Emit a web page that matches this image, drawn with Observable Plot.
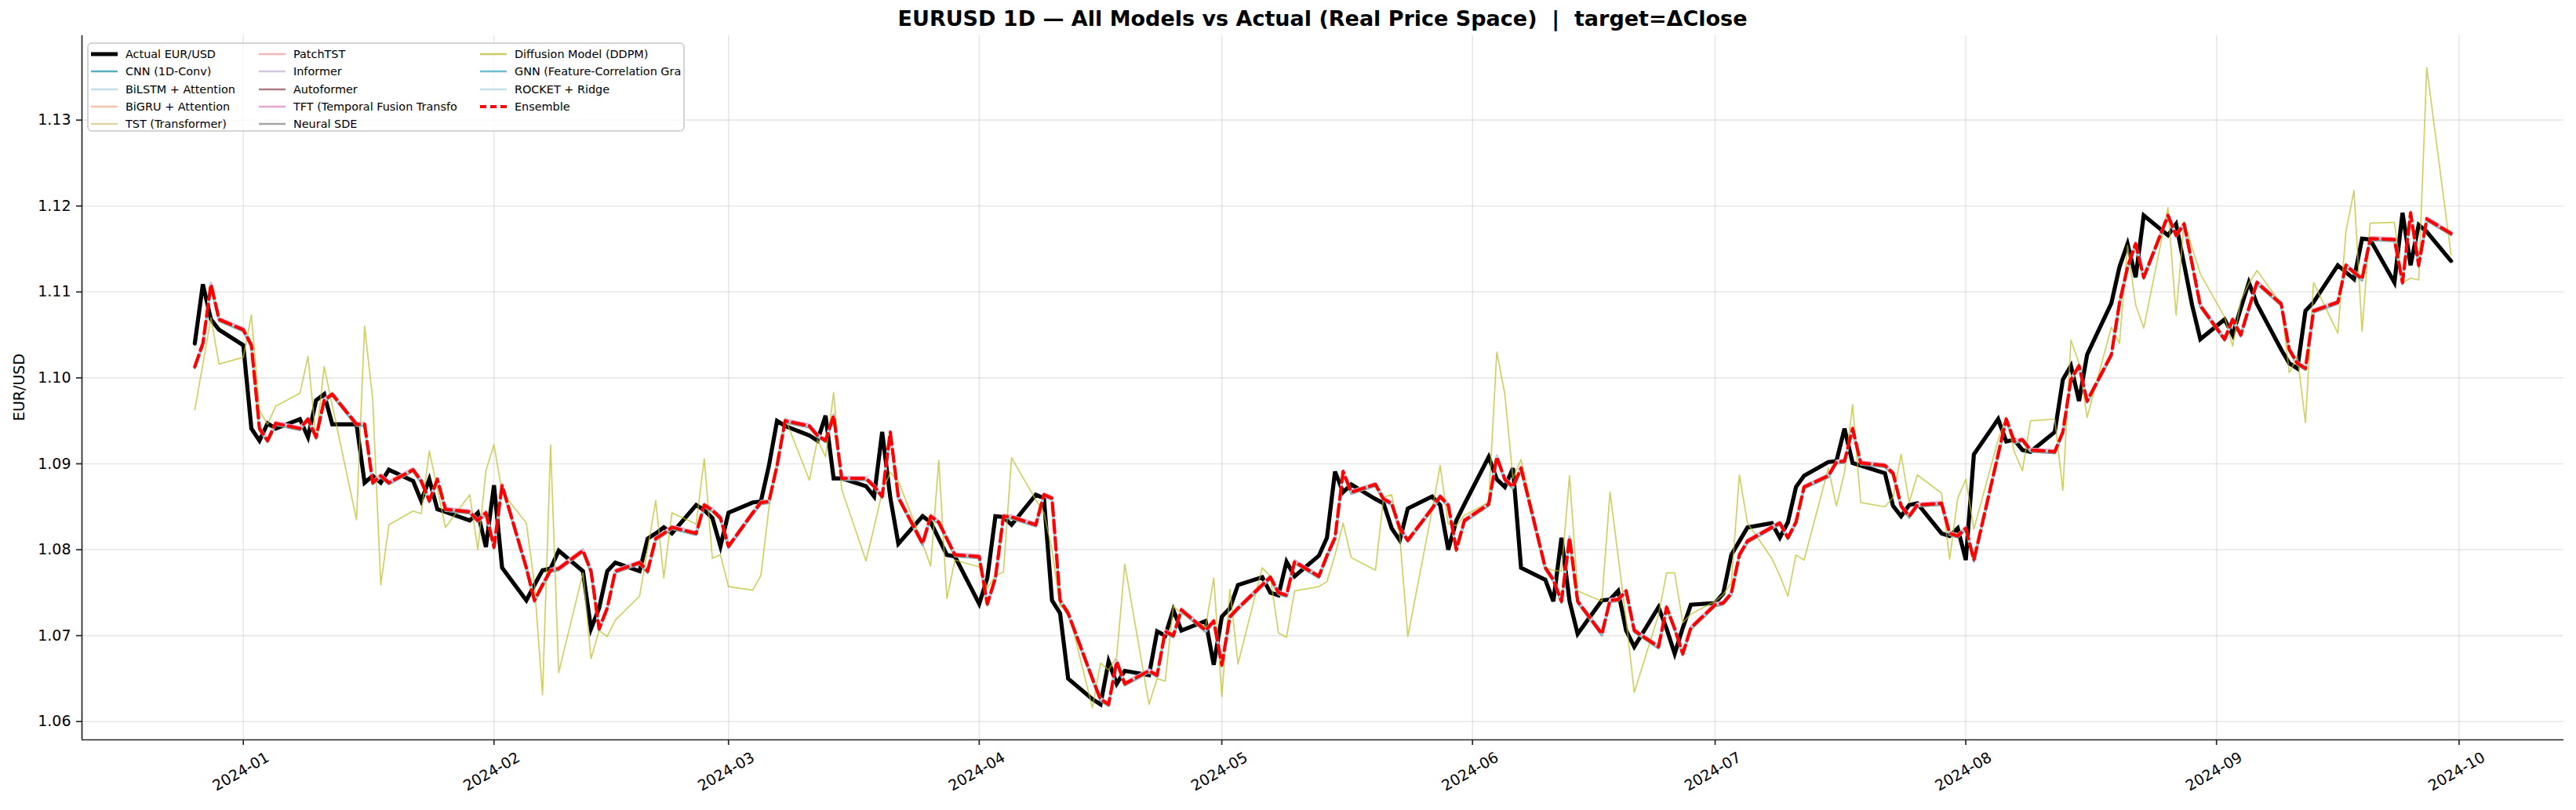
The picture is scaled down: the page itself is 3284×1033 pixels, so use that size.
<!DOCTYPE html>
<html>
<head>
<meta charset="utf-8">
<script src="https://cdn.jsdelivr.net/npm/d3@7"></script>
<script src="https://cdn.jsdelivr.net/npm/@observablehq/plot@0.6"></script>
<style>
  body { margin: 0; background: #fff; font-family: "DejaVu Sans", sans-serif; }
  #wrap { position: relative; width: 3284px; height: 1033px; }
  #legend {
    position: absolute; left: 111px; top: 54px; width: 762px; height: 114px;
    border: 2px solid #d4d4d4; border-radius: 6px; background: rgba(255,255,255,0.8);
    box-sizing: border-box; font-size: 14.4px; color: #000;
  }
  .item { position: absolute; height: 18px; display: flex; align-items: center; white-space: pre; }
  .item svg { margin-right: 10px; }
</style>
</head>
<body>
<div id="wrap"></div>
<script>
// ---- series (EUR/USD daily closes and model forecasts, business days 2023-12-26 .. 2024-09-30) ----
const startDay = "2023-12-26";
const endDay = "2024-09-30";

const actual = [
  // Dec 2023
  1.1040, 1.1109, 1.1068, 1.1056,
  // Jan 2024
  1.1038, 1.0941, 1.0927, 1.0947, 1.0941, 1.0952, 1.0931, 1.0974, 1.0981, 1.0946, 1.0946, 1.0878,
  1.0886, 1.0878, 1.0893, 1.0880, 1.0857, 1.0882, 1.0847, 1.0844, 1.0834, 1.0843, 1.0803,
  // Feb
  1.0875, 1.0779, 1.0741, 1.0759, 1.0776, 1.0778, 1.0799, 1.0775, 1.0708, 1.0732, 1.0775, 1.0785,
  1.0775, 1.0813, 1.0819, 1.0826, 1.0819, 1.0852, 1.0846, 1.0837, 1.0804,
  // Mar
  1.0843, 1.0855, 1.0856, 1.0898, 1.0950, 1.0944, 1.0933, 1.0927, 1.0956, 1.0883, 1.0883, 1.0874,
  1.0862, 1.0937, 1.0861, 1.0807, 1.0839, 1.0832, 1.0813, 1.0794, 1.0792,
  // Apr
  1.0737, 1.0767, 1.0839, 1.0838, 1.0829, 1.0864, 1.0860, 1.0741, 1.0726, 1.0650, 1.0626, 1.0620,
  1.0670, 1.0644, 1.0659, 1.0654, 1.0705, 1.0700, 1.0730, 1.0706, 1.0717, 1.0666,
  // May
  1.0722, 1.0732, 1.0759, 1.0768, 1.0750, 1.0747, 1.0786, 1.0769, 1.0793, 1.0814, 1.0891, 1.0867,
  1.0876, 1.0859, 1.0854, 1.0825, 1.0811, 1.0848, 1.0862, 1.0852, 1.0800, 1.0834, 1.0853,
  // Jun
  1.0908, 1.0882, 1.0873, 1.0895, 1.0779, 1.0765, 1.0740, 1.0814, 1.0740, 1.0702, 1.0741, 1.0742,
  1.0752, 1.0706, 1.0687, 1.0733, 1.0708, 1.0679, 1.0709, 1.0736,
  // Jul
  1.0738, 1.0749, 1.0794, 1.0810, 1.0826, 1.0831, 1.0814, 1.0832, 1.0873, 1.0886, 1.0902, 1.0903,
  1.0941, 1.0901, 1.0898, 1.0889, 1.0851, 1.0839, 1.0852, 1.0854, 1.0819, 1.0816, 1.0825,
  // Aug
  1.0788, 1.0911, 1.0952, 1.0926, 1.0928, 1.0916, 1.0914, 1.0937, 1.0998, 1.1014, 1.0973, 1.1027,
  1.1087, 1.1129, 1.1156, 1.1117, 1.1189, 1.1166, 1.1179, 1.1132, 1.1084, 1.1045,
  // Sep
  1.1068, 1.1050, 1.1081, 1.1111, 1.1086, 1.1033, 1.1017, 1.1011, 1.1078, 1.1088, 1.1131, 1.1123,
  1.1115, 1.1162, 1.1161, 1.1111, 1.1192, 1.1131, 1.1178, 1.1170, 1.1136
];

// Ensemble forecast (the neural models track it within a pip or two)
const ensemble = [
  1.1013, 1.1040, 1.1109, 1.1068,
  1.1056, 1.1038, 1.0941, 1.0927, 1.0947, 1.0941, 1.0952, 1.0931, 1.0974, 1.0981, 1.0946, 1.0946,
  1.0878, 1.0886, 1.0878, 1.0893, 1.0880, 1.0857, 1.0882, 1.0847, 1.0844, 1.0834, 1.0843,
  1.0803, 1.0875, 1.0779, 1.0741, 1.0759, 1.0776, 1.0778, 1.0799, 1.0775, 1.0708, 1.0732, 1.0775,
  1.0785, 1.0775, 1.0813, 1.0819, 1.0826, 1.0819, 1.0852, 1.0846, 1.0837,
  1.0804, 1.0843, 1.0855, 1.0856, 1.0898, 1.0950, 1.0944, 1.0933, 1.0927, 1.0956, 1.0883, 1.0883,
  1.0874, 1.0862, 1.0937, 1.0861, 1.0807, 1.0839, 1.0832, 1.0813, 1.0794,
  1.0792, 1.0737, 1.0767, 1.0839, 1.0838, 1.0829, 1.0864, 1.0860, 1.0741, 1.0726, 1.0650, 1.0626,
  1.0620, 1.0670, 1.0644, 1.0659, 1.0654, 1.0705, 1.0700, 1.0730, 1.0706, 1.0717,
  1.0666, 1.0722, 1.0732, 1.0759, 1.0768, 1.0750, 1.0747, 1.0786, 1.0769, 1.0793, 1.0814, 1.0891,
  1.0867, 1.0876, 1.0859, 1.0854, 1.0825, 1.0811, 1.0848, 1.0862, 1.0852, 1.0800, 1.0834,
  1.0853, 1.0908, 1.0882, 1.0873, 1.0895, 1.0779, 1.0765, 1.0740, 1.0814, 1.0740, 1.0702, 1.0741,
  1.0742, 1.0752, 1.0706, 1.0687, 1.0733, 1.0708, 1.0679, 1.0709,
  1.0736, 1.0738, 1.0749, 1.0794, 1.0810, 1.0826, 1.0831, 1.0814, 1.0832, 1.0873, 1.0886, 1.0902,
  1.0903, 1.0941, 1.0901, 1.0898, 1.0889, 1.0851, 1.0839, 1.0852, 1.0854, 1.0819, 1.0816,
  1.0825, 1.0788, 1.0911, 1.0952, 1.0926, 1.0928, 1.0916, 1.0914, 1.0937, 1.0998, 1.1014, 1.0973,
  1.1027, 1.1087, 1.1129, 1.1156, 1.1117, 1.1189, 1.1166, 1.1179, 1.1132, 1.1084,
  1.1045, 1.1068, 1.1050, 1.1081, 1.1111, 1.1086, 1.1033, 1.1017, 1.1011, 1.1078, 1.1088, 1.1131,
  1.1123, 1.1115, 1.1162, 1.1161, 1.1111, 1.1192, 1.1131, 1.1185, 1.1168
];

// Diffusion model (DDPM) forecast
const diffusion = [
  1.0963, 1.1016, 1.1070, 1.1016,
  1.1024, 1.1073, 1.0962, 1.0946, 1.0967, 1.0982, 1.1025, 1.0928, 1.1013, 1.0968, 1.0835, 1.1060,
  1.0975, 1.0759, 1.0829, 1.0845, 1.0842, 1.0915, 1.0871, 1.0826, 1.0864, 1.0800, 1.0892,
  1.0922, 1.0867, 1.0831, 1.0760, 1.0631, 1.0922, 1.0657, 1.0773, 1.0673, 1.0706, 1.0699, 1.0718,
  1.0746, 1.0801, 1.0857, 1.0767, 1.0843, 1.0830, 1.0906, 1.0790, 1.0794,
  1.0757, 1.0753, 1.0770, 1.0849, 1.0901, 1.0953, 1.0881, 1.0928, 1.0908, 1.0983, 1.0870, 1.0787,
  1.0826, 1.0867, 1.0890, 1.0880, 1.0807, 1.0781, 1.0904, 1.0743, 1.0788,
  1.0780, 1.0755, 1.0770, 1.0774, 1.0907, 1.0858, 1.0843, 1.0800, 1.0734, 1.0730, 1.0616, 1.0668,
  1.0660, 1.0675, 1.0783, 1.0620, 1.0650, 1.0647, 1.0734, 1.0726, 1.0710, 1.0767,
  1.0629, 1.0754, 1.0667, 1.0779, 1.0769, 1.0703, 1.0698, 1.0752, 1.0757, 1.0763, 1.0794, 1.0831,
  1.0791, 1.0776, 1.0861, 1.0864, 1.0816, 1.0699, 1.0846, 1.0898, 1.0830, 1.0828, 1.0840,
  1.0855, 1.1030, 1.0981, 1.0883, 1.0905, 1.0779, 1.0776, 1.0775, 1.0886, 1.0752, 1.0740, 1.0867,
  1.0793, 1.0718, 1.0634, 1.0724, 1.0773, 1.0773, 1.0715, 1.0725,
  1.0740, 1.0748, 1.0761, 1.0887, 1.0831, 1.0790, 1.0770, 1.0746, 1.0794, 1.0788, 1.0895, 1.0851,
  1.0890, 1.0969, 1.0855, 1.0850, 1.0861, 1.0911, 1.0855, 1.0887, 1.0866, 1.0789, 1.0860,
  1.0882, 1.0824, 1.0928, 1.0954, 1.0914, 1.0892, 1.0950, 1.0952, 1.0869, 1.1044, 1.1017, 1.0954,
  1.1059, 1.1040, 1.1154, 1.1085, 1.1058, 1.1198, 1.1073, 1.1182, 1.1151, 1.1121,
  1.1071, 1.1037, 1.1090, 1.1110, 1.1125, 1.1086, 1.1006, 1.1025, 1.0948, 1.1111, 1.1052, 1.1170,
  1.1218, 1.1054, 1.1180, 1.1181, 1.1111, 1.1116, 1.1114, 1.1361, 1.1143
];

// Neural models that follow the ensemble path
const neuralModels = [
  "CNN (1D-Conv)", "BiLSTM + Attention", "BiGRU + Attention", "TST (Transformer)",
  "PatchTST", "Informer", "Autoformer", "TFT (Temporal Fusion Transfo", "Neural SDE"
];
const lateModels = ["GNN (Feature-Correlation Gra", "ROCKET + Ridge"];
const modelColors = {
  "CNN (1D-Conv)": "#5aaec2",
  "BiLSTM + Attention": "#c2dde8",
  "BiGRU + Attention": "#f3c4ad",
  "TST (Transformer)": "#ddd6a4",
  "PatchTST": "#f5b6b6",
  "Informer": "#d3c6e2",
  "Autoformer": "#ad7b80",
  "TFT (Temporal Fusion Transfo": "#e9a3d0",
  "Neural SDE": "#a4a4a4",
  "Diffusion Model (DDPM)": "#cccb66",
  "GNN (Feature-Correlation Gra": "#6dbfcd",
  "ROCKET + Ridge": "#c2e0e9"
};
// small pixel offsets so the overlapping model lines remain visible as a halo
const modelShift = {
  "CNN (1D-Conv)": 1.6, "BiLSTM + Attention": -1.6, "BiGRU + Attention": 0.8, "TST (Transformer)": -0.8,
  "PatchTST": 1.2, "Informer": -1.2, "Autoformer": 2.0, "TFT (Temporal Fusion Transfo": -2.0,
  "Neural SDE": 0.4, "GNN (Feature-Correlation Gra": 1.8, "ROCKET + Ridge": -0.4
};

const yTickValues = [1.06, 1.07, 1.08, 1.09, 1.10, 1.11, 1.12, 1.13];
const monthTickLabels = ["2024-01", "2024-02", "2024-03", "2024-04", "2024-05",
                         "2024-06", "2024-07", "2024-08", "2024-09", "2024-10"];

const titleText = "EURUSD 1D \u2014 All Models vs Actual (Real Price Space)  |  target=\u0394Close";

// ---- build table ----
const parseDay = d3.utcParse("%Y-%m-%d");
const days = d3.utcDays(parseDay(startDay), d3.utcDay.offset(parseDay(endDay), 1))
  .filter(d => d.getUTCDay() !== 0 && d.getUTCDay() !== 6);
const rows = days.map((date, i) => ({date, actual: actual[i], ensemble: ensemble[i], diffusion: diffusion[i]}));

const monthTicks = monthTickLabels.map(d3.utcParse("%Y-%m"));

// matplotlib-style 5% padding around the data
const t0 = days[0], t1 = days[days.length - 1];
const tPad = (t1 - t0) * 0.05;
const xDomain = [new Date(+t0 - tPad), new Date(+t1 + tPad)];
const allVals = actual.concat(ensemble, diffusion);
const vMin = d3.min(allVals), vMax = d3.max(allVals), vPad = (vMax - vMin) * 0.05;
const yDomain = [vMin - vPad, vMax + vPad];

const W = 3284, H = 1033, ML = 104, MR = 16, MT = 45, MB = 90;

const modelLine = (name, key) => Plot.line(rows, {
  x: "date", y: key, stroke: modelColors[name], strokeWidth: 2.6, strokeOpacity: 0.85,
  dy: modelShift[name] || 0, curve: "linear"
});

const chart = Plot.plot({
  width: W, height: H,
  marginLeft: ML, marginRight: MR, marginTop: MT, marginBottom: MB,
  style: {fontFamily: "DejaVu Sans", fontSize: "19px", background: "white", color: "#000"},
  x: {type: "utc", domain: xDomain},
  y: {domain: yDomain},
  marks: [
    Plot.gridX(monthTicks, {stroke: "#b0b0b0", strokeOpacity: 0.3, strokeWidth: 1.6}),
    Plot.gridY(yTickValues, {stroke: "#b0b0b0", strokeOpacity: 0.3, strokeWidth: 1.6}),
    // actual closes
    Plot.line(rows, {x: "date", y: "actual", stroke: "#000", strokeWidth: 5.2, strokeLinejoin: "miter", strokeMiterlimit: 4}),
    // individual models
    ...neuralModels.map(n => modelLine(n, "ensemble")),
    Plot.line(rows, {x: "date", y: "diffusion", stroke: "#bcbd22", strokeWidth: 1.7, strokeOpacity: 0.7}),
    ...lateModels.map(n => modelLine(n, "ensemble")),
    // ensemble
    Plot.line(rows, {x: "date", y: "ensemble", stroke: "#ff0000", strokeWidth: 4.2, strokeDasharray: "15.4,6.7"}),
    // spines
    Plot.ruleX([xDomain[0]], {stroke: "#262626", strokeWidth: 1.7}),
    Plot.ruleY([yDomain[0]], {stroke: "#262626", strokeWidth: 1.7}),
    Plot.axisY(yTickValues, {tickSize: 7, tickPadding: 7, tickFormat: d3.format(".2f"), label: null, stroke: "#262626", strokeWidth: 1.7, fontSize: 19}),
    Plot.axisX(monthTicks, {tickSize: 7, tickFormat: () => "", label: null, stroke: "#262626", strokeWidth: 1.7}),
    Plot.text(monthTicks, {x: d => d, text: d3.utcFormat("%Y-%m"), frameAnchor: "bottom", dy: 46, rotate: -30, textAnchor: "middle", fontSize: 19, fill: "#000"})
  ]
});

const wrap = document.getElementById("wrap");
wrap.appendChild(chart);

// title and y label
const svg = d3.select(chart);
svg.append("text").attr("x", ML + (W - ML - MR) / 2).attr("y", 33)
  .attr("text-anchor", "middle").attr("font-weight", "bold").attr("font-size", 27)
  .attr("fill", "#000").style("white-space", "pre").attr("xml:space", "preserve").text(titleText);
svg.append("text").attr("transform", `translate(31,${MT + (H - MT - MB) / 2}) rotate(-90)`)
  .attr("text-anchor", "middle").attr("font-size", 19).attr("fill", "#000").text("EUR/USD");

// legend (three columns, filled column by column)
const legendItems = [
  {label: "Actual EUR/USD", color: "#000", width: 5.2},
  ...neuralModels.slice(0, 4).map(n => ({label: n, color: modelColors[n], width: 2.4})),
  ...neuralModels.slice(4).map(n => ({label: n, color: modelColors[n], width: 2.4})),
  {label: "Diffusion Model (DDPM)", color: modelColors["Diffusion Model (DDPM)"], width: 2.4},
  ...lateModels.map(n => ({label: n, color: modelColors[n], width: 2.4})),
  {label: "Ensemble", color: "#ff0000", width: 4.2, dash: "8,5"}
];
const legend = document.createElement("div");
legend.id = "legend";
const colX = [3, 217, 499];
legendItems.forEach((it, i) => {
  const col = Math.floor(i / 5), row = i % 5;
  const el = document.createElement("div");
  el.className = "item";
  el.style.left = colX[col] + "px";
  el.style.top = (4 + row * 22.3) + "px";
  el.innerHTML = `<svg width="34" height="10"><line x1="0" y1="5" x2="34" y2="5" stroke="${it.color}" stroke-width="${it.width}" ${it.dash ? `stroke-dasharray="${it.dash}"` : ""}/></svg><span>${it.label}</span>`;
  legend.appendChild(el);
});
wrap.appendChild(legend);
</script>
</body>
</html>
